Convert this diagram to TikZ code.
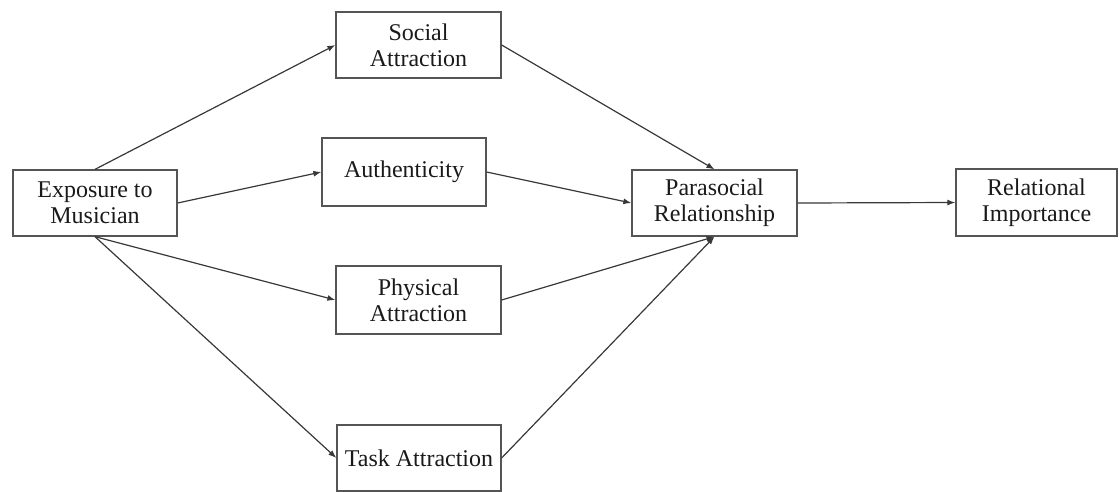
\documentclass[tikz,border=0pt]{standalone}
\usepackage{fontspec}
\setmainfont{Liberation Serif}
\usetikzlibrary{arrows.meta}
\definecolor{boxline}{HTML}{555555}
\definecolor{arrline}{HTML}{383838}
\definecolor{txt}{HTML}{1A1A1A}
\begin{document}
\begin{tikzpicture}[x=1pt,y=-1pt,
  varbox/.style={draw=boxline, line width=1.3pt, fill=white, text=txt,
    align=center, inner sep=0pt,
    font=\fontsize{24pt}{26pt}\selectfont},
  path/.style={draw=arrline, line width=1.2pt, -{Latex[length=8pt,width=6pt]}}]
\useasboundingbox (0,0) rectangle (1119,491);
\node[varbox, minimum width=164pt, minimum height=66pt] (expo) at (95,203) {Exposure to\\Musician};
\node[varbox, minimum width=165pt, minimum height=66pt] (social) at (418.5,45) {Social\\Attraction};
\node[varbox, minimum width=164pt, minimum height=68pt] (auth) at (404,172) {Authenticity};
\node[varbox, minimum width=165pt, minimum height=68pt] (phys) at (418.5,300) {Physical\\Attraction};
\node[varbox, minimum width=164pt, minimum height=66pt] (task) at (419,458) {Task Attraction};
\node[varbox, minimum width=165pt, minimum height=66pt] (para) at (714.5,203) {Parasocial\\Relationship};
\node[varbox, minimum width=161pt, minimum height=67pt] (rel) at (1036.5,202.5) {Relational\\Importance};
\draw[path] (expo.north) -- (social.west);
\draw[path] (expo.east) -- (auth.west);
\draw[path] (expo.south) -- (phys.west);
\draw[path] (expo.south) -- (task.west);
\draw[path] (social.east) -- (para.north);
\draw[path] (auth.east) -- (para.west);
\draw[path] (phys.east) -- (para.south);
\draw[path] (task.east) -- (para.south);
\draw[path] (para.east) -- (rel.west);
\end{tikzpicture}
\end{document}
